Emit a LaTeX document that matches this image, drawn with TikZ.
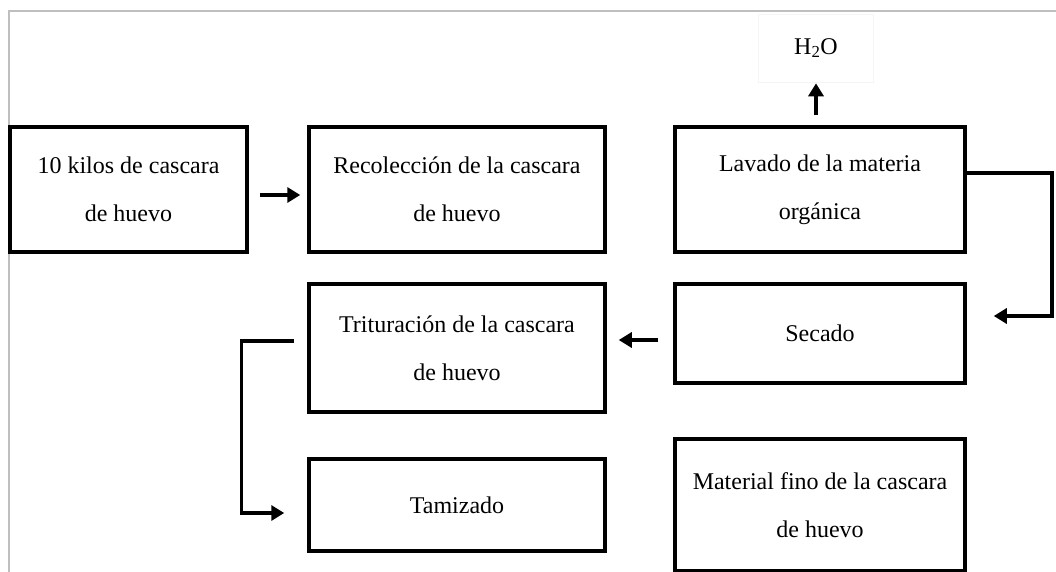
\documentclass[tikz,border=0pt]{standalone}
\usepackage{fontspec}
\setmainfont{Liberation Serif}
\usetikzlibrary{arrows.meta}
\begin{document}
\begin{tikzpicture}[x=1pt,y=-1pt,
  box/.style={draw=black,line width=3.5pt,align=center,inner sep=0pt,
    font=\fontsize{24}{48}\selectfont},
  arr/.style={draw=black,line width=3.5pt,-{Triangle[length=13pt,width=15pt]}},
  link/.style={draw=black,line width=3.5pt}]
\useasboundingbox (0,0) rectangle (1056,572);
\fill[white] (0,0) rectangle (1056,572);
\draw[black!25,line width=1.2pt] (9,572) -- (9,11) -- (1056,11);
\node[box,minimum width=237pt,minimum height=125pt] (b1) at (128.5,189.5) {10 kilos de cascara\\de huevo};
\node[box,minimum width=296pt,minimum height=125pt] (b2) at (457,189.5) {Recolección de la cascara\\de huevo};
\node[box,minimum width=290pt,minimum height=125pt] (b3) at (820,189.5) {Lavado de la materia\\orgánica};
\node[box,draw=black!4,line width=0.6pt,minimum width=115pt,minimum height=68pt] (h2o) at (816,48) {H\textsubscript{2}O};
\node[box,minimum width=290pt,minimum height=99pt] (sec) at (820,333.5) {Secado};
\node[box,minimum width=296pt,minimum height=128pt] (tri) at (457,348) {Trituración de la cascara\\de huevo};
\node[box,minimum width=296pt,minimum height=92pt] (tam) at (457,505) {Tamizado};
\node[box,minimum width=290pt,minimum height=132pt] (mat) at (820,505) {Material fino de la cascara\\de huevo};
\draw[arr] ([shift={(11,5.5)}]b1.east) -- ([shift={(-7,5.5)}]b2.west);
\draw[arr] ([shift={(0,33)}]h2o.south) -- ([shift={(0,1)}]h2o.south);
\draw[arr] ([shift={(0,-16.5)}]b3.east) -- ++(85,0) |- ([shift={(27,-17.5)}]sec.east);
\draw[arr] ([shift={(-15,6.5)}]sec.west) -- ([shift={(12,-8)}]tri.east);
\draw[arr] ([shift={(-13,-7)}]tri.west) -- ++(-53,0) |- ([shift={(-23,8)}]tam.west);
\end{tikzpicture}
\end{document}
